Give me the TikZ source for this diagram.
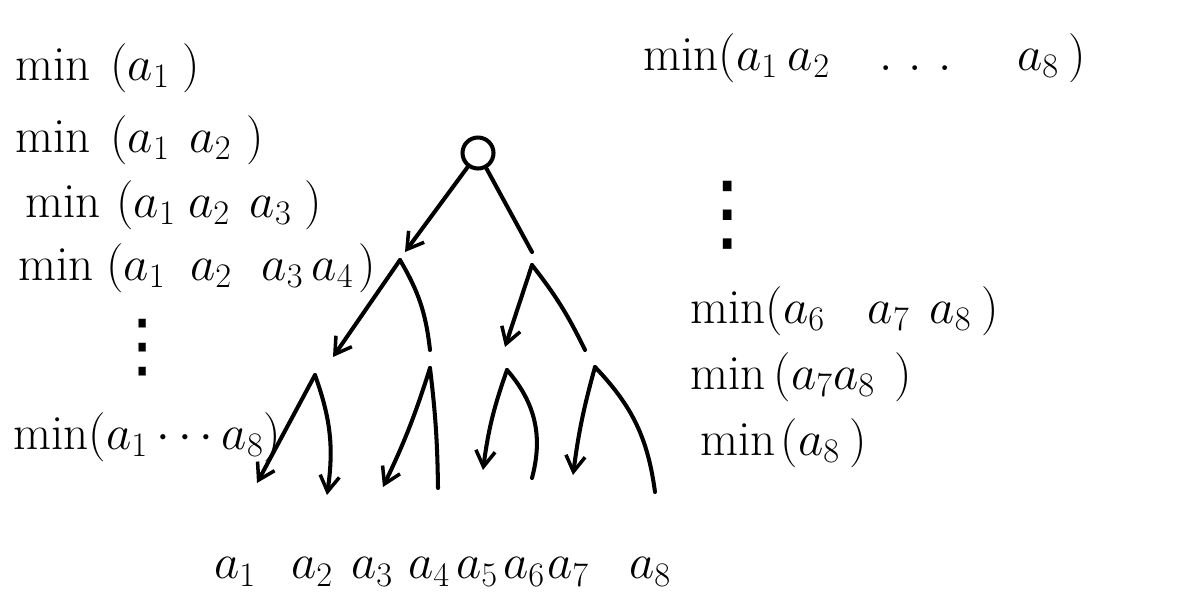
\RequirePackage{fix-cm}
\documentclass[tikz,border=0pt]{standalone}
\usepackage{amsmath}
\usepackage{fontspec}
\newfontfamily\dejavu{DejaVu Sans}
\usetikzlibrary{arrows.meta}
\newcommand{\hs}[1]{\hspace{#1em}}
\begin{document}
\begin{tikzpicture}[x=0.02cm,y=-0.02cm,
  lbl/.style={anchor=west,inner sep=0pt,font=\fontsize{28}{34}\selectfont},
  leaf/.style={inner sep=0pt,font=\fontsize{28}{34}\selectfont},
  vdot/.style={inner sep=0pt,font=\dejavu\fontsize{#1}{#1}\selectfont},
  edge/.style={line width=2.3pt,line cap=round},
  arr/.style={edge,-{Straight Barb[length=9pt,width=11pt,line width=2pt]}}]
\useasboundingbox (0,0) rectangle (1180,600);

% left labels
\node[lbl] (l1) at (15,68) {$\min\hs{0.4}(a_1\hs{0.25})$};
\node[lbl] (l2) at (15,140) {$\min\hs{0.4}(a_1\hs{0.4}a_2\hs{0.3})$};
\node[lbl] (l3) at (25,205) {$\min\hs{0.32}(a_1\hs{0.25}a_2\hs{0.4}a_3\hs{0.25})$};
\node[lbl] (l4) at (18,268) {$\min\hs{0.25}(a_1\hs{0.5}a_2\hs{0.6}a_3\,a_4\hs{0.1})$};
\node[vdot=40pt] (ldots) at (143,348) {⋮};
\node[lbl] (l8) at (13,437) {$\min(a_1\cdots a_8)$};

% right labels
\node[lbl] (r1) at (643,58) {$\min(a_1\hs{0.2}a_2\hs{1}.\hs{0.33}.\hs{0.33}.\hs{1.33}a_8\hs{0.2})$};
\node[vdot=48pt] (rdots) at (728,215) {⋮};
\node[lbl] (r6) at (690,311) {$\min(a_6\hs{0.87}a_7\hs{0.4}a_8\hs{0.2})$};
\node[lbl] (r7) at (690,377) {$\min\hs{0.16}(a_7a_8\hs{0.4})$};
\node[lbl] (r8) at (700,443) {$\min\hs{0.1}(a_8\hs{0.2})$};

% leaves
\node[leaf] (a1) at (235,572) {$a_1$};
\node[leaf] (a2) at (312,572) {$a_2$};
\node[leaf] (a3) at (372,572) {$a_3$};
\node[leaf] (a4) at (429,572) {$a_4$};
\node[leaf] (a5) at (477,572) {$a_5$};
\node[leaf] (a6) at (524,572) {$a_6$};
\node[leaf] (a7) at (568,572) {$a_7$};
\node[leaf] (a8) at (650,572) {$a_8$};

% tree
\node[draw,circle,line width=2.3pt,minimum size=0.62cm,inner sep=0pt] (root) at (478,153) {};
\coordinate (n2a) at (400,260);
\coordinate (n2b) at (532,265);
\coordinate (t2a) at (405,252);
\coordinate (t2b) at (532,252);
\draw[arr] (root) -- (t2a);
\draw[edge] (root) -- (t2b);

\coordinate (n3a) at (315,375);
\coordinate (n3b) at (430,368);
\coordinate (n3c) at (507,370);
\coordinate (n3d) at (595,367);
\coordinate (t3a) at (333,357);
\coordinate (t3b) at (430,350);
\coordinate (t3c) at (505,347);
\coordinate (t3d) at (585,350);
\draw[arr] (n2a) -- (t3a);
\draw[edge] (n2a) to[bend left=12] (t3b);
\draw[arr] (n2b) -- (t3c);
\draw[edge] (n2b) to[bend left=6] (t3d);

\coordinate (b1) at (257,483);
\coordinate (b2) at (327,495);
\coordinate (b3) at (383,487);
\coordinate (b4) at (438,488);
\coordinate (b5) at (483,470);
\coordinate (b6) at (532,478);
\coordinate (b7) at (573,475);
\coordinate (b8) at (655,492);
\draw[arr] (n3a) -- (b1);
\draw[arr] (n3a) to[bend left=14] (b2);
\draw[arr] (n3b) to[bend left=4] (b3);
\draw[edge] (n3b) to[bend left=3] (b4);
\draw[arr] (n3c) to[bend right=6] (b5);
\draw[edge] (n3c) to[bend left=28] (b6);
\draw[arr] (n3d) to[bend right=4] (b7);
\draw[edge] (n3d) to[bend left=18] (b8);
\end{tikzpicture}
\end{document}
